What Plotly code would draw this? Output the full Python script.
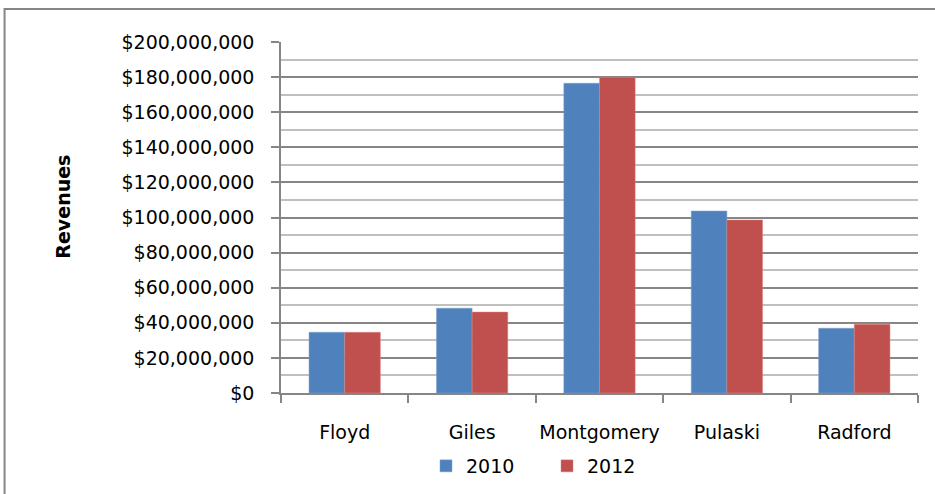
import plotly.graph_objects as go

categories = ["Floyd", "Giles", "Montgomery", "Pulaski", "Radford"]
rev_2010 = [34.6e6, 48.3e6, 176.5e6, 103.7e6, 36.9e6]
rev_2012 = [34.6e6, 46.1e6, 179.9e6, 98.6e6, 39.2e6]
tick_vals = [i * 20e6 for i in range(11)]
tick_text = ["$0"] + ["${:,.0f}".format(v) for v in tick_vals[1:]]

FONT = "DejaVu Sans"
fig = go.Figure()
fig.add_bar(x=categories, y=rev_2010, name="2010", marker_color="#4f81bd",
            marker_line=dict(color="#7ea3d0", width=0.5))
fig.add_bar(x=categories, y=rev_2012, name="2012", marker_color="#c0504d",
            marker_line=dict(color="#d98583", width=0.5))

fig.update_layout(
    width=935, height=494,
    margin=dict(l=281, r=17, t=42, b=101),
    paper_bgcolor="white", plot_bgcolor="white",
    barmode="group", bargap=0.44, bargroupgap=0,
    font=dict(family=FONT, size=19, color="black"),
    showlegend=True,
    legend=dict(orientation="h", xref="container", yref="container",
                x=426 / 935, xanchor="left", y=(494 - 466) / 494, yanchor="middle",
                font=dict(size=19), entrywidth=76, traceorder="normal"),
    xaxis=dict(showline=True, linecolor="#868686", linewidth=1.5,
               ticks="outside", ticklen=8, tickcolor="#868686", tickwidth=1.5,
               tickson="boundaries", showgrid=False, tickfont=dict(size=19),
               tickangle=0, automargin=False, ticklabelstandoff=21),
    yaxis=dict(range=[0, 200e6], tickvals=tick_vals, ticktext=tick_text,
               showline=True, linecolor="#868686", linewidth=1.5,
               ticks="outside", ticklen=8, tickcolor="#868686", tickwidth=1.5,
               showgrid=True, gridcolor="#868686", gridwidth=1.5,
               minor=dict(dtick=10e6, tick0=0, showgrid=True, gridcolor="#c0c0c0", gridwidth=1.5,
                          ticks=""),
               zeroline=False, tickfont=dict(size=19), automargin=False, ticklabelstandoff=13),
)
fig.add_annotation(text="<b>Revenues</b>", xref="paper", yref="paper",
                   x=(63 - 281) / 636, y=(393 - 207) / 351, textangle=-90,
                   showarrow=False, font=dict(size=19), xanchor="center", yanchor="middle")
fig.add_shape(type="rect", xref="paper", yref="paper",
              x0=(5 - 281) / 636, x1=1.2, y0=-0.5, y1=(393 - 9) / 351,
              line=dict(color="#868686", width=2), fillcolor="rgba(0,0,0,0)", layer="below")
fig.write_html("out.html")
